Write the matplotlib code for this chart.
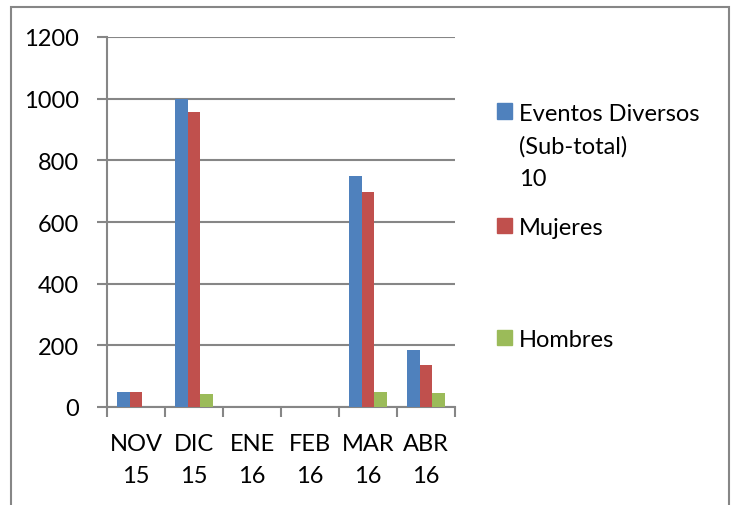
import matplotlib.pyplot as plt
from matplotlib.patches import Rectangle
import numpy as np

plt.rcParams['font.family'] = ['Lato', 'DejaVu Sans']

# Data
months = ['NOV\n15', 'DIC\n15', 'ENE\n16', 'FEB\n16', 'MAR\n16', 'ABR\n16']
eventos = [50, 1000, 0, 0, 750, 185]
mujeres = [48, 956, 0, 0, 698, 137]
hombres = [0, 41, 0, 0, 49, 47]
series_names = ['Eventos Diversos\n(Sub-total)\n10', 'Mujeres', 'Hombres']
colors = ['#4F81BD', '#C0504D', '#9BBB59']
grid_color = '#868686'
fs = 17

fig = plt.figure(figsize=(7.33, 5.06), dpi=100)
ax = fig.add_axes([107 / 733, 1 - 408 / 506, 348 / 733, 370 / 506])

x = np.arange(len(months))
w = 0.22
for k, vals in enumerate([eventos, mujeres, hombres]):
    ax.bar(x + (k - 1) * w, vals, width=w, color=colors[k], zorder=3)

ax.set_xlim(-0.5, len(months) - 0.5)
ax.set_ylim(0, 1200)
ax.set_yticks(range(0, 1201, 200))
ax.grid(axis='y', color=grid_color, linewidth=1.5, zorder=0)

ax.set_xticks(x)
ax.set_xticklabels(months, fontsize=fs, linespacing=1.62)
ax.set_xticks(np.arange(-0.5, len(months), 1), minor=True)
ax.tick_params(axis='x', which='major', length=0, pad=19)
ax.tick_params(axis='x', which='minor', length=7, width=1.5, color=grid_color)
ax.tick_params(axis='y', length=7, width=1.5, color=grid_color, labelsize=fs, pad=13)

for s in ['top', 'right']:
    ax.spines[s].set_visible(False)
for s in ['left', 'bottom']:
    ax.spines[s].set_color(grid_color)
    ax.spines[s].set_linewidth(1.5)

# Legend drawn by hand to follow the spread-out layout
legend_y = [112, 226, 338]
for name, c, yy in zip(series_names, colors, legend_y):
    fig.patches.append(Rectangle((497 / 733, 1 - (yy + 7.5) / 506), 15 / 733, 15 / 506,
                                 transform=fig.transFigure, color=c))
    fig.text(519 / 733, 1 - (yy - 8) / 506, name, fontsize=fs, va='top', ha='left',
             linespacing=1.65)

# Outer border of the chart area
fig.patches.append(Rectangle((11 / 733, -0.1), 718 / 733, 1.1 - 8 / 506,
                             transform=fig.transFigure, fill=False,
                             edgecolor=grid_color, linewidth=1.5))

fig.savefig('out.png', dpi=100)
